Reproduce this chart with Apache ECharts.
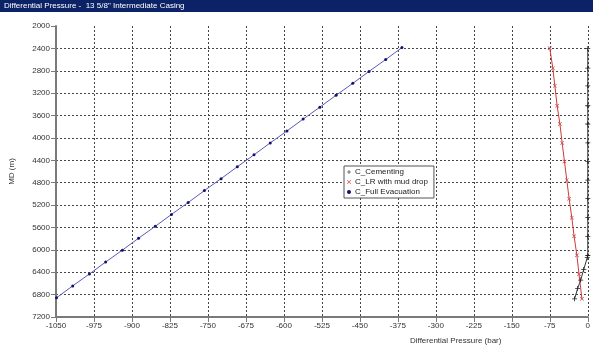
<!DOCTYPE html>
<html><head><meta charset="utf-8">
<script src="https://cdn.jsdelivr.net/npm/echarts@6/dist/echarts.min.js"></script>
<style>html,body{margin:0;padding:0;background:#fff}#c{width:593px;height:349px}</style>
</head><body><div id="c"></div>
<script>
var titleText = 'Differential Pressure -  13 5/8" Intermediate Casing';
var xAxisName = 'Differential Pressure (bar)';
var yAxisName = 'MD (m)';
var seriesNames = ['C_Cementing', 'C_LR with mud drop', 'C_Full Evacuation'];

var cementX  = [0, 0, 0, 0, 0, 0, 0, 0, 0, 0, 0, 0, -1, -8, -14, -20, -26];
var cementMD = [2400, 2753, 3069, 3425, 3751, 4089, 4422, 4755, 5086, 5425, 5758, 6101, 6140, 6350, 6540, 6690, 6875];

var mudX  = [-75, -69, -65, -60.5, -55, -50.6, -46, -41.4, -36.8, -31.5, -27, -21.5, -17.3, -11.5];
var mudMD = [2397, 2753, 3069, 3425, 3751, 4089, 4422, 4755, 5086, 5425, 5758, 6096, 6435, 6875];

var evacX  = [-1049, -1017, -984, -952, -919, -887, -854, -822, -789, -757, -724, -692, -659, -627, -594, -562, -529, -497, -464, -432, -399, -367];
var evacMD = [6857, 6644, 6431, 6218, 6005, 5792, 5580, 5367, 5154, 4941, 4728, 4515, 4302, 4089, 3876, 3663, 3450, 3238, 3025, 2812, 2599, 2386];

function pairs(xs, ys) { return xs.map(function (x, i) { return [x, ys[i]]; }); }

var FONT = 'Liberation Sans, Arial, sans-serif';
var plusPath = 'path://M4.2,0h1.6v10h-1.6z M0,4.2h10v1.6h-10z';
var crossPath = 'path://M0,1.1L1.1,0L10,8.9L8.9,10z M8.9,0L10,1.1L1.1,10L0,8.9z';

var chart = echarts.init(document.getElementById('c'), null, { renderer: 'canvas' });
chart.setOption({
  animation: false,
  backgroundColor: '#fff',
  grid: { left: 55, right: 5, top: 26, bottom: 32, containLabel: false },
  graphic: [
    { type: 'rect', left: 0, top: 0, shape: { width: 593, height: 12 }, style: { fill: '#0b2266' } },
    { type: 'text', left: 4, top: 2, style: { text: titleText, fill: '#fff', font: '8px ' + FONT } },
    { type: 'text', left: 410, top: 337, style: { text: xAxisName, fill: '#333', font: '8px ' + FONT } }
  ],
  xAxis: {
    type: 'value', min: -1050, max: 0, interval: 75,
    axisLine: { show: true, onZero: false, lineStyle: { color: '#7a7a7a', width: 2 } },
    axisTick: { show: true, length: 5, lineStyle: { color: '#7a7a7a' } },
    axisLabel: { color: '#333', fontSize: 8, fontFamily: FONT, margin: 5, formatter: function (v) { return String(v); } },
    splitLine: { show: true, showMinLine: false, showMaxLine: true, lineStyle: { color: '#444', type: [2, 2], width: 1 } }
  },
  yAxis: {
    type: 'value', inverse: true, min: 2000, max: 7200, interval: 400,
    name: yAxisName, nameLocation: 'middle', nameGap: 40, nameRotate: 90,
    nameTextStyle: { color: '#333', fontSize: 8, fontFamily: FONT },
    axisLine: { show: true, onZero: false, lineStyle: { color: '#7a7a7a', width: 2 } },
    axisTick: { show: true, length: 5, lineStyle: { color: '#7a7a7a' } },
    axisLabel: { color: '#333', fontSize: 8, fontFamily: FONT, margin: 6, formatter: function (v) { return String(v); } },
    splitLine: { show: true, showMinLine: false, showMaxLine: false, lineStyle: { color: '#444', type: [2, 2], width: 1 } }
  },
  legend: {
    orient: 'vertical', left: 344, top: 166,
    backgroundColor: '#fff',
    borderColor: '#555', borderWidth: 1, padding: [2, 6, 2, 3],
    itemGap: 2, itemWidth: 4, itemHeight: 4,
    textStyle: { color: '#222', fontSize: 8, fontFamily: FONT, padding: [0, 0, 0, -1] },
    data: [
      { name: seriesNames[0], icon: plusPath },
      { name: seriesNames[1], icon: crossPath },
      { name: seriesNames[2], icon: 'circle' }
    ]
  },
  series: [
    {
      name: seriesNames[0], type: 'line', data: pairs(cementX, cementMD),
      symbol: plusPath, symbolSize: 5, showAllSymbol: true,
      lineStyle: { color: '#333', width: 1 }, itemStyle: { color: '#222' }
    },
    {
      name: seriesNames[1], type: 'line', data: pairs(mudX, mudMD),
      symbol: crossPath, symbolSize: 4, showAllSymbol: true,
      lineStyle: { color: '#cc3b3b', width: 1 }, itemStyle: { color: '#d04040' }
    },
    {
      name: seriesNames[2], type: 'line', data: pairs(evacX, evacMD),
      symbol: 'circle', symbolSize: 3, showAllSymbol: true,
      lineStyle: { color: '#5a5ab8', width: 1 }, itemStyle: { color: '#101070', borderWidth: 0 }
    }
  ]
});
</script></body></html>
